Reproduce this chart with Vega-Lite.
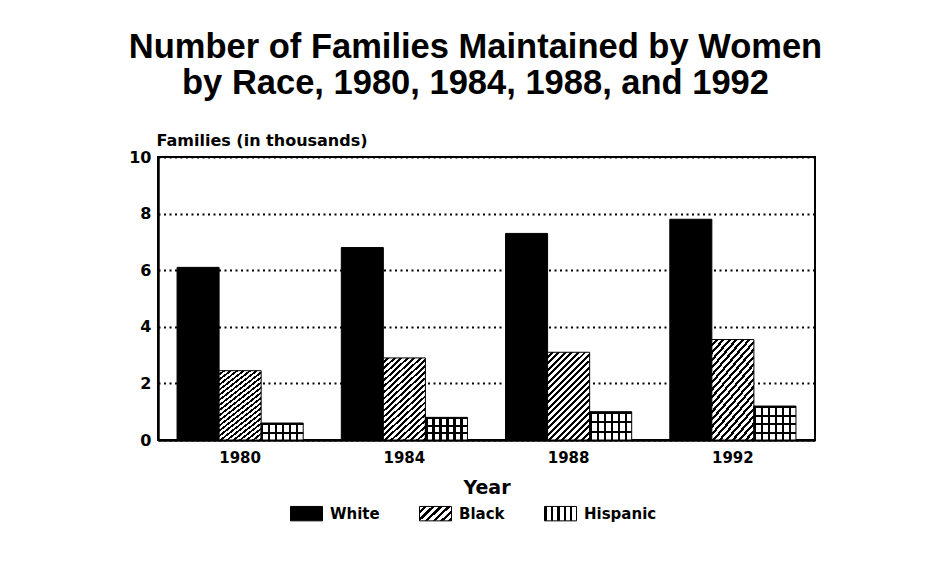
{
  "$schema": "https://vega.github.io/schema/vega-lite/v6.json",
  "width": 657,
  "height": 283,
  "autosize": {"type": "none"},
  "padding": {"left": 158, "top": 157, "right": 131, "bottom": 130},
  "background": "white",
  "config": {
    "font": "DejaVu Sans",
    "view": {"stroke": "#000", "strokeWidth": 2},
    "axis": {
      "labelFont": "DejaVu Sans",
      "labelFontWeight": "bold",
      "labelColor": "#000",
      "titleFont": "DejaVu Sans",
      "titleFontWeight": "bold",
      "titleColor": "#000",
      "domainColor": "#000",
      "domainWidth": 2.5,
      "ticks": false
    },
    "legend": {
      "labelFont": "DejaVu Sans",
      "labelFontWeight": "bold",
      "labelColor": "#000"
    }
  },
  "title": {
    "text": ["Number of Families Maintained by Women", "by Race, 1980, 1984, 1988, and 1992"],
    "font": "Liberation Sans",
    "fontSize": 34.5,
    "fontWeight": "bold",
    "color": "#000",
    "anchor": "middle",
    "frame": "group",
    "offset": 31,
    "dx": -11,
    "lineHeight": 36
  },
  "data": {
    "values": [
      {"year": "1980", "race": "White", "value": 6.1},
      {"year": "1980", "race": "Black", "value": 2.45},
      {"year": "1980", "race": "Hispanic", "value": 0.6},
      {"year": "1984", "race": "White", "value": 6.8},
      {"year": "1984", "race": "Black", "value": 2.9},
      {"year": "1984", "race": "Hispanic", "value": 0.8},
      {"year": "1988", "race": "White", "value": 7.3},
      {"year": "1988", "race": "Black", "value": 3.1},
      {"year": "1988", "race": "Hispanic", "value": 1.0},
      {"year": "1992", "race": "White", "value": 7.8},
      {"year": "1992", "race": "Black", "value": 3.55},
      {"year": "1992", "race": "Hispanic", "value": 1.2}
    ]
  },
  "encoding": {
    "x": {
      "field": "year",
      "type": "ordinal",
      "scale": {"paddingInner": 0.232, "paddingOuter": 0.116},
      "axis": {
        "title": "Year",
        "labelAngle": 0,
        "labelFontSize": 15,
        "labelPadding": 10,
        "titleFontSize": 19,
        "titlePadding": 13,
        "grid": false
      }
    },
    "xOffset": {
      "field": "race",
      "type": "nominal",
      "scale": {"domain": ["White", "Black", "Hispanic"], "paddingInner": 0, "paddingOuter": 0}
    },
    "y": {
      "field": "value",
      "type": "quantitative",
      "scale": {"domain": [0, 10]},
      "axis": {
        "title": "Families (in thousands)",
        "values": [0, 2, 4, 6, 8, 10],
        "labelFontSize": 16,
        "labelPadding": 7,
        "titleFontSize": 16,
        "titleAngle": 0,
        "titleAlign": "left",
        "titleAnchor": null,
        "titleBaseline": "alphabetic",
        "titleX": -2,
        "titleY": -12,
        "grid": true,
        "gridColor": "#000",
        "gridWidth": 2,
        "gridDash": [2, 3.5]
      }
    }
  },
  "layer": [
    {
      "mark": {"type": "bar", "stroke": "#000", "strokeWidth": 1},
      "encoding": {
        "fill": {
          "condition": [
            {
              "test": "datum.race === 'Black'",
              "value": {
                "gradient": "linear", "x1": 0, "y1": 0, "x2": 0.573, "y2": 1.203,
                "stops": [
                  {"offset": 0, "color": "#fff"}, {"offset": 0.0275, "color": "#fff"}, {"offset": 0.0275, "color": "#000"}, {"offset": 0.05, "color": "#000"},
                  {"offset": 0.05, "color": "#fff"}, {"offset": 0.0775, "color": "#fff"}, {"offset": 0.0775, "color": "#000"}, {"offset": 0.1, "color": "#000"},
                  {"offset": 0.1, "color": "#fff"}, {"offset": 0.1275, "color": "#fff"}, {"offset": 0.1275, "color": "#000"}, {"offset": 0.15, "color": "#000"},
                  {"offset": 0.15, "color": "#fff"}, {"offset": 0.1775, "color": "#fff"}, {"offset": 0.1775, "color": "#000"}, {"offset": 0.2, "color": "#000"},
                  {"offset": 0.2, "color": "#fff"}, {"offset": 0.2275, "color": "#fff"}, {"offset": 0.2275, "color": "#000"}, {"offset": 0.25, "color": "#000"},
                  {"offset": 0.25, "color": "#fff"}, {"offset": 0.2775, "color": "#fff"}, {"offset": 0.2775, "color": "#000"}, {"offset": 0.3, "color": "#000"},
                  {"offset": 0.3, "color": "#fff"}, {"offset": 0.3275, "color": "#fff"}, {"offset": 0.3275, "color": "#000"}, {"offset": 0.35, "color": "#000"},
                  {"offset": 0.35, "color": "#fff"}, {"offset": 0.3775, "color": "#fff"}, {"offset": 0.3775, "color": "#000"}, {"offset": 0.4, "color": "#000"},
                  {"offset": 0.4, "color": "#fff"}, {"offset": 0.4275, "color": "#fff"}, {"offset": 0.4275, "color": "#000"}, {"offset": 0.45, "color": "#000"},
                  {"offset": 0.45, "color": "#fff"}, {"offset": 0.4775, "color": "#fff"}, {"offset": 0.4775, "color": "#000"}, {"offset": 0.5, "color": "#000"},
                  {"offset": 0.5, "color": "#fff"}, {"offset": 0.5275, "color": "#fff"}, {"offset": 0.5275, "color": "#000"}, {"offset": 0.55, "color": "#000"},
                  {"offset": 0.55, "color": "#fff"}, {"offset": 0.5775, "color": "#fff"}, {"offset": 0.5775, "color": "#000"}, {"offset": 0.6, "color": "#000"},
                  {"offset": 0.6, "color": "#fff"}, {"offset": 0.6275, "color": "#fff"}, {"offset": 0.6275, "color": "#000"}, {"offset": 0.65, "color": "#000"},
                  {"offset": 0.65, "color": "#fff"}, {"offset": 0.6775, "color": "#fff"}, {"offset": 0.6775, "color": "#000"}, {"offset": 0.7, "color": "#000"},
                  {"offset": 0.7, "color": "#fff"}, {"offset": 0.7275, "color": "#fff"}, {"offset": 0.7275, "color": "#000"}, {"offset": 0.75, "color": "#000"},
                  {"offset": 0.75, "color": "#fff"}, {"offset": 0.7775, "color": "#fff"}, {"offset": 0.7775, "color": "#000"}, {"offset": 0.8, "color": "#000"},
                  {"offset": 0.8, "color": "#fff"}, {"offset": 0.8275, "color": "#fff"}, {"offset": 0.8275, "color": "#000"}, {"offset": 0.85, "color": "#000"},
                  {"offset": 0.85, "color": "#fff"}, {"offset": 0.8775, "color": "#fff"}, {"offset": 0.8775, "color": "#000"}, {"offset": 0.9, "color": "#000"},
                  {"offset": 0.9, "color": "#fff"}, {"offset": 0.9275, "color": "#fff"}, {"offset": 0.9275, "color": "#000"}, {"offset": 0.95, "color": "#000"},
                  {"offset": 0.95, "color": "#fff"}, {"offset": 0.9775, "color": "#fff"}, {"offset": 0.9775, "color": "#000"}, {"offset": 1, "color": "#000"}
                ]
              }
            },
            {
              "test": "datum.race === 'Hispanic'",
              "value": {
                "gradient": "linear", "x1": 0, "y1": 0, "x2": 1, "y2": 0,
                "stops": [
                  {"offset": 0, "color": "#000"}, {"offset": 0.05, "color": "#000"}, {"offset": 0.05, "color": "#fff"}, {"offset": 0.1667, "color": "#fff"},
                  {"offset": 0.1667, "color": "#000"}, {"offset": 0.2167, "color": "#000"}, {"offset": 0.2167, "color": "#fff"}, {"offset": 0.3333, "color": "#fff"},
                  {"offset": 0.3333, "color": "#000"}, {"offset": 0.3833, "color": "#000"}, {"offset": 0.3833, "color": "#fff"}, {"offset": 0.5, "color": "#fff"},
                  {"offset": 0.5, "color": "#000"}, {"offset": 0.55, "color": "#000"}, {"offset": 0.55, "color": "#fff"}, {"offset": 0.6667, "color": "#fff"},
                  {"offset": 0.6667, "color": "#000"}, {"offset": 0.7167, "color": "#000"}, {"offset": 0.7167, "color": "#fff"}, {"offset": 0.8333, "color": "#fff"},
                  {"offset": 0.8333, "color": "#000"}, {"offset": 0.8833, "color": "#000"}, {"offset": 0.8833, "color": "#fff"}, {"offset": 1, "color": "#fff"}
                ]
              }
            }
          ],
          "field": "race",
          "type": "nominal",
          "sort": ["White", "Black", "Hispanic"],
          "scale": {
            "domain": ["White", "Black", "Hispanic"],
            "range": [
              "#000",
              {"expr": "({gradient: 'linear', x1: 0, y1: 0, x2: 1.2, y2: 0.565, stops: [{offset: 0, color: '#fff'}, {offset: 0.0917, color: '#fff'}, {offset: 0.0917, color: '#000'}, {offset: 0.1667, color: '#000'}, {offset: 0.1667, color: '#fff'}, {offset: 0.2583, color: '#fff'}, {offset: 0.2583, color: '#000'}, {offset: 0.3333, color: '#000'}, {offset: 0.3333, color: '#fff'}, {offset: 0.425, color: '#fff'}, {offset: 0.425, color: '#000'}, {offset: 0.5, color: '#000'}, {offset: 0.5, color: '#fff'}, {offset: 0.5917, color: '#fff'}, {offset: 0.5917, color: '#000'}, {offset: 0.6667, color: '#000'}, {offset: 0.6667, color: '#fff'}, {offset: 0.7583, color: '#fff'}, {offset: 0.7583, color: '#000'}, {offset: 0.8333, color: '#000'}, {offset: 0.8333, color: '#fff'}, {offset: 0.925, color: '#fff'}, {offset: 0.925, color: '#000'}, {offset: 1, color: '#000'}]})"},
              {"expr": "({gradient: 'linear', x1: 0, y1: 0, x2: 1, y2: 0, stops: [{offset: 0, color: '#000'}, {offset: 0.07, color: '#000'}, {offset: 0.07, color: '#fff'}, {offset: 0.2, color: '#fff'}, {offset: 0.2, color: '#000'}, {offset: 0.27, color: '#000'}, {offset: 0.27, color: '#fff'}, {offset: 0.4, color: '#fff'}, {offset: 0.4, color: '#000'}, {offset: 0.47, color: '#000'}, {offset: 0.47, color: '#fff'}, {offset: 0.6, color: '#fff'}, {offset: 0.6, color: '#000'}, {offset: 0.67, color: '#000'}, {offset: 0.67, color: '#fff'}, {offset: 0.8, color: '#fff'}, {offset: 0.8, color: '#000'}, {offset: 0.87, color: '#000'}, {offset: 0.87, color: '#fff'}, {offset: 1, color: '#fff'}]})"}
            ]
          },
          "legend": {
            "title": null,
            "orient": "none",
            "direction": "horizontal",
            "legendX": 132,
            "legendY": 340,
            "columnPadding": 37,
            "labelFontSize": 15,
            "labelOffset": 7,
            "symbolType": "M-1,-0.45H1V0.45H-1Z",
            "symbolSize": 1024,
            "symbolStrokeColor": "#000",
            "symbolStrokeWidth": 1,
            "symbolOpacity": 1
          }
        }
      }
    },
    {
      "transform": [{"filter": "datum.race === 'Hispanic'"}],
      "mark": {"type": "bar", "strokeWidth": 0},
      "encoding": {
        "fill": {
          "condition": [
            {
              "test": "datum.year === '1980'",
              "value": {
                "gradient": "linear", "x1": 0, "y1": 0, "x2": 0, "y2": 1,
                "stops": [
                  {"offset": 0, "color": "#000"}, {"offset": 0.12, "color": "#000"}, {"offset": 0.12, "color": "rgba(0,0,0,0)"}, {"offset": 0.5, "color": "rgba(0,0,0,0)"},
                  {"offset": 0.5, "color": "#000"}, {"offset": 0.62, "color": "#000"}, {"offset": 0.62, "color": "rgba(0,0,0,0)"}, {"offset": 1, "color": "rgba(0,0,0,0)"}
                ]
              }
            },
            {
              "test": "datum.year === '1984'",
              "value": {
                "gradient": "linear", "x1": 0, "y1": 0, "x2": 0, "y2": 1,
                "stops": [
                  {"offset": 0, "color": "#000"}, {"offset": 0.09, "color": "#000"}, {"offset": 0.09, "color": "rgba(0,0,0,0)"}, {"offset": 0.3333, "color": "rgba(0,0,0,0)"},
                  {"offset": 0.3333, "color": "#000"}, {"offset": 0.4233, "color": "#000"}, {"offset": 0.4233, "color": "rgba(0,0,0,0)"}, {"offset": 0.6667, "color": "rgba(0,0,0,0)"},
                  {"offset": 0.6667, "color": "#000"}, {"offset": 0.7567, "color": "#000"}, {"offset": 0.7567, "color": "rgba(0,0,0,0)"}, {"offset": 1, "color": "rgba(0,0,0,0)"}
                ]
              }
            },
            {
              "test": "datum.year === '1988'",
              "value": {
                "gradient": "linear", "x1": 0, "y1": 0, "x2": 0, "y2": 1,
                "stops": [
                  {"offset": 0, "color": "#000"}, {"offset": 0.075, "color": "#000"}, {"offset": 0.075, "color": "rgba(0,0,0,0)"}, {"offset": 0.3333, "color": "rgba(0,0,0,0)"},
                  {"offset": 0.3333, "color": "#000"}, {"offset": 0.4083, "color": "#000"}, {"offset": 0.4083, "color": "rgba(0,0,0,0)"}, {"offset": 0.6667, "color": "rgba(0,0,0,0)"},
                  {"offset": 0.6667, "color": "#000"}, {"offset": 0.7417, "color": "#000"}, {"offset": 0.7417, "color": "rgba(0,0,0,0)"}, {"offset": 1, "color": "rgba(0,0,0,0)"}
                ]
              }
            }
          ],
          "value": {
            "gradient": "linear", "x1": 0, "y1": 0, "x2": 0, "y2": 1,
            "stops": [
              {"offset": 0, "color": "#000"}, {"offset": 0.06, "color": "#000"}, {"offset": 0.06, "color": "rgba(0,0,0,0)"}, {"offset": 0.25, "color": "rgba(0,0,0,0)"},
              {"offset": 0.25, "color": "#000"}, {"offset": 0.31, "color": "#000"}, {"offset": 0.31, "color": "rgba(0,0,0,0)"}, {"offset": 0.5, "color": "rgba(0,0,0,0)"},
              {"offset": 0.5, "color": "#000"}, {"offset": 0.56, "color": "#000"}, {"offset": 0.56, "color": "rgba(0,0,0,0)"}, {"offset": 0.75, "color": "rgba(0,0,0,0)"},
              {"offset": 0.75, "color": "#000"}, {"offset": 0.81, "color": "#000"}, {"offset": 0.81, "color": "rgba(0,0,0,0)"}, {"offset": 1, "color": "rgba(0,0,0,0)"}
            ]
          }
        }
      }
    }
  ]
}
